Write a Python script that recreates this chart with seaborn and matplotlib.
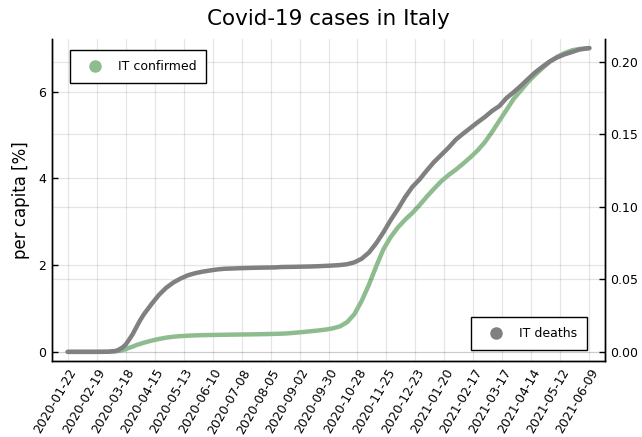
import matplotlib
matplotlib.use("Agg")
import matplotlib.pyplot as plt
import matplotlib.dates as mdates
from matplotlib.lines import Line2D
from matplotlib.ticker import FormatStrFormatter
import pandas as pd
import seaborn as sns

# Italy, cumulative counts, sampled roughly weekly
population = 60_461_826

dates = [
    "2020-01-22", "2020-02-15", "2020-02-23", "2020-03-01", "2020-03-08",
    "2020-03-11", "2020-03-15", "2020-03-18", "2020-03-22", "2020-03-25",
    "2020-03-29", "2020-04-01", "2020-04-05", "2020-04-12", "2020-04-19",
    "2020-04-26", "2020-05-03", "2020-05-10", "2020-05-17", "2020-05-24",
    "2020-05-31", "2020-06-07", "2020-06-14", "2020-06-21", "2020-06-28",
    "2020-07-05", "2020-07-12", "2020-07-19", "2020-07-26", "2020-08-02",
    "2020-08-09", "2020-08-16", "2020-08-23", "2020-08-30", "2020-09-06",
    "2020-09-13", "2020-09-20", "2020-09-27", "2020-10-04", "2020-10-11",
    "2020-10-18", "2020-10-25", "2020-11-01", "2020-11-08", "2020-11-15",
    "2020-11-22", "2020-11-29", "2020-12-06", "2020-12-13", "2020-12-20",
    "2020-12-27", "2021-01-03", "2021-01-10", "2021-01-17", "2021-01-24",
    "2021-01-31", "2021-02-07", "2021-02-14", "2021-02-21", "2021-02-28",
    "2021-03-07", "2021-03-14", "2021-03-21", "2021-03-28", "2021-04-04",
    "2021-04-11", "2021-04-18", "2021-04-25", "2021-05-02", "2021-05-09",
    "2021-05-16", "2021-05-23", "2021-05-30", "2021-06-06", "2021-06-09",
]

confirmed = [
    0, 3, 155, 1694, 7375,
    12462, 24747, 35713, 59138, 74386,
    97689, 110574, 128948, 156363, 178972,
    197675, 210717, 219070, 225435, 229858,
    232997, 234998, 236651, 238275, 240136,
    241611, 242827, 244216, 246118, 248070,
    250566, 253915, 259345, 268218, 277634,
    287753, 298156, 309870, 327586, 354950,
    414241, 525782, 709335, 935104, 1190000,
    1430000, 1600000, 1735000, 1843712, 1938083,
    2047696, 2166244, 2276491, 2381277, 2466813,
    2541783, 2625098, 2712920, 2809246, 2925265,
    3067486, 3223142, 3376376, 3532057, 3650247,
    3769814, 3870131, 3962674, 4050708, 4116287,
    4167025, 4205970, 4225163, 4234605, 4237790,
]

deaths = [
    0, 0, 3, 34, 366,
    827, 1809, 2978, 5476, 7503,
    10779, 13155, 15887, 19899, 23660,
    26644, 28884, 30560, 31908, 32785,
    33415, 33899, 34345, 34634, 34744,
    34861, 34954, 35045, 35112, 35154,
    35205, 35392, 35437, 35483, 35553,
    35610, 35724, 35851, 36002, 36205,
    36543, 37338, 38826, 41394, 45229,
    49823, 54904, 59514, 64520, 68799,
    71925, 75680, 79203, 82177, 85162,
    88516, 91003, 93356, 95718, 97945,
    100479, 102499, 105879, 108350, 111030,
    113923, 116676, 119021, 121177, 122833,
    124063, 125028, 126046, 126523, 126690,
]

tick_dates = [
    "2020-01-22", "2020-02-19", "2020-03-18", "2020-04-15", "2020-05-13",
    "2020-06-10", "2020-07-08", "2020-08-05", "2020-09-02", "2020-09-30",
    "2020-10-28", "2020-11-25", "2020-12-23", "2021-01-20", "2021-02-17",
    "2021-03-17", "2021-04-14", "2021-05-12", "2021-06-09",
]
left_ticks = [0, 2, 4, 6]
right_ticks = [0.00, 0.05, 0.10, 0.15, 0.20]

df = pd.DataFrame({
    "date": pd.to_datetime(dates),
    "confirmed_pct": [100 * c / population for c in confirmed],
    "deaths_pct": [100 * d / population for d in deaths],
})

sns.set_style("white")
plt.rcParams["font.family"] = ["DejaVu Sans"]
plt.rcParams["text.color"] = "black"
plt.rcParams["axes.labelcolor"] = "black"
plt.rcParams["xtick.color"] = "black"
plt.rcParams["ytick.color"] = "black"

green = "#8fbc8f"
grey = "#808080"

fig = plt.figure(figsize=(6.42, 4.37), dpi=100)
ax = fig.add_axes([0.081, 0.174, 0.8614, 0.7368])
ax2 = ax.twinx()

sns.lineplot(data=df, x="date", y="confirmed_pct", ax=ax, color=green, lw=3.2)
sns.lineplot(data=df, x="date", y="deaths_pct", ax=ax2, color=grey, lw=3.2)


def padded(lo, hi, frac=0.03):
    span = hi - lo
    return lo - frac * span, hi + frac * span


d0, d1 = df["date"].min(), df["date"].max()
span_days = (d1 - d0).days
pad = pd.Timedelta(days=0.03 * span_days)
ax.set_xlim(d0 - pad, d1 + pad)
ax.set_ylim(*padded(0, df["confirmed_pct"].max()))
ax2.set_ylim(*padded(0, df["deaths_pct"].max()))

ax.set_xticks(pd.to_datetime(tick_dates))
ax.xaxis.set_major_formatter(mdates.DateFormatter("%Y-%m-%d"))
ax.set_yticks(left_ticks)
ax2.set_yticks(right_ticks)
ax2.yaxis.set_major_formatter(FormatStrFormatter("%.2f"))

for lbl in ax.get_xticklabels():
    lbl.set_rotation(60)
    lbl.set_ha("right")
    lbl.set_va("top")
    lbl.set_rotation_mode("anchor")

ax.tick_params(axis="both", direction="in", length=4, width=1, color="black",
               labelcolor="black", labelsize=9, pad=4)
ax2.tick_params(axis="y", direction="in", length=4, width=1, color="black",
                labelcolor="black", labelsize=9, pad=4)

ax.grid(True, color="black", alpha=0.1, lw=0.9)
ax2.grid(True, axis="y", color="black", alpha=0.1, lw=0.9)
ax2.grid(False, axis="x")

for a in (ax, ax2):
    a.spines["top"].set_visible(False)
    for s in ("left", "bottom", "right"):
        a.spines[s].set_color("black")
        a.spines[s].set_linewidth(1.0)

ax.set_xlabel("")
ax.set_ylabel("per capita [%]", fontsize=12, labelpad=6, color="black")
ax2.set_ylabel("")
ax.set_title("Covid-19 cases in Italy", fontsize=15.5, pad=10, color="black")

legend_kw = dict(fontsize=9, frameon=True, fancybox=False, framealpha=1,
                 edgecolor="black", borderpad=0.8, handlelength=2.4,
                 handletextpad=0.6, borderaxespad=0, labelcolor="black")
h1 = [Line2D([], [], ls="none", marker="o", ms=8, color=green)]
h2 = [Line2D([], [], ls="none", marker="o", ms=8, color=grey)]
leg1 = ax2.legend(h1, ["IT confirmed"], loc="upper left",
                  bbox_to_anchor=(0.0326, 0.9658), **legend_kw)
leg1.get_frame().set_linewidth(1.0)
ax2.add_artist(leg1)
leg2 = ax2.legend(h2, ["IT deaths"], loc="lower right",
                  bbox_to_anchor=(0.9675, 0.0342), **legend_kw)
leg2.get_frame().set_linewidth(1.0)

fig.savefig("out.png", dpi=100)
